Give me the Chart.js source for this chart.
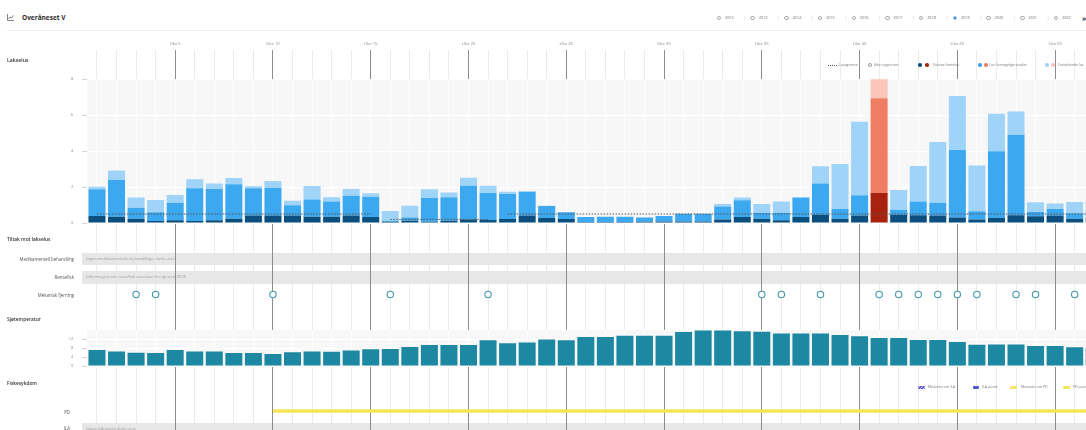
<!DOCTYPE html>
<html lang="no">
<head>
<meta charset="utf-8">
<script src="https://cdn.jsdelivr.net/npm/chart.js@4.4.1/dist/chart.umd.min.js"></script>
<style>
html, body { margin: 0; padding: 0; background: #fff; overflow: hidden; width: 1086px; height: 430px; }
#page { position: relative; width: 1104px; height: 430px; font-family: 'Open Sans', sans-serif; color: #333; overflow: hidden; }
canvas { position: absolute; left: 0; }
.lbl { position: absolute; white-space: nowrap; line-height: 1; }
.box { position: absolute; }
.row { position: absolute; left: 82px; width: 1022px; background: #e7e7e7; z-index: 2; color: #9a9a9a; font-size: 4.1px; line-height: 12.5px; padding-left: 4px; box-sizing: border-box; white-space: nowrap; }
</style>
</head>
<body>
<div id="page">
  <svg class="box" style="left:7px;top:14px;z-index:6" width="7" height="7" viewBox="0 0 7 7">
    <path d="M0.5 0 V6.5 H7" fill="none" stroke="#666" stroke-width="0.8"/>
    <path d="M1.5 5 L3 3 L4.3 4.2 L6.5 1.2" fill="none" stroke="#666" stroke-width="0.8"/>
  </svg>
  <div class="box" style="left:7px;top:30px;width:1097px;height:1px;background:#eeeeee"></div>
  <div class="row" style="top:252.5px;height:12.5px">Ingen medikamentelle behandlinger dette året</div>
  <div class="row" style="top:271.3px;height:12.5px">Informasjon om rensefisk vises kun fra og med 2018</div>
  <div class="row" style="top:422.7px;height:12.5px">Ingen ILA påvist dette året</div>
</div>
<script>
// === data ===
const weeks = Array.from({ length: 52 }, (_, i) => i + 1);

// lakselus per uke (gjennomsnitt per fisk)
const adultFemale = [0.39, 0.35, 0.24, 0.11, 0.15, 0.11, 0.15, 0.24, 0.41, 0.41,
    0.41, 0.35, 0.35, 0.41, 0.33, 0.07, 0.13, 0.07, 0.13, 0.19,
    0.17, 0.22, 0.41, 0.28, 0.22, 0.06, 0.06, 0.06, 0.07, 0.09,
    0.09, 0.09, 0.19, 0.33, 0.24, 0.15, 0.33, 0.46, 0.24, 0.41,
    1.67, 0.46, 0.43, 0.41, 0.30, 0.19, 0.28, 0.43, 0.37, 0.41,
    0.24, 0.30];
const mobileLice = [1.48, 2.04, 0.61, 0.49, 0.98, 1.82, 1.74, 1.91, 1.52, 1.55,
    0.57, 0.95, 0.84, 1.11, 1.13, 0.06, 0.17, 1.32, 1.30, 1.88,
    1.50, 1.39, 1.32, 0.66, 0.38, 0.27, 0.29, 0.29, 0.23, 0.30,
    0.43, 0.43, 0.72, 0.93, 0.33, 0.42, 1.07, 1.74, 0.54, 1.13,
    5.26, 0.28, 0.77, 0.70, 3.76, 0.46, 3.70, 4.46, 0.24, 0.37,
    0.30, 0.40];
const attachedLice = [0.15, 0.52, 0.56, 0.68, 0.43, 0.50, 0.31, 0.35, 0.11, 0.37,
    0.26, 0.76, 0.24, 0.37, 0.19, 0.54, 0.66, 0.48, 0.26, 0.45,
    0.40, 0.13, 0.03, 0.02, 0.01, 0, 0, 0, 0, 0,
    0, 0, 0.15, 0.15, 0.49, 0.62, 0.04, 0.95, 2.50, 4.09,
    1.05, 1.09, 1.97, 3.39, 3.00, 2.55, 2.09, 1.30, 0.54, 0.31,
    0.63, 0.50];
const liceLimit = [0.5, 0.5, 0.5, 0.5, 0.5, 0.5, 0.5, 0.5, 0.5, 0.5,
    0.5, 0.5, 0.5, 0.5, 0.5, 0.2, 0.2, 0.2, 0.2, 0.2,
    0.2, 0.5, 0.5, 0.5, 0.5, 0.5, 0.5, 0.5, 0.5, 0.5,
    0.5, 0.5, 0.5, 0.5, 0.5, 0.5, 0.5, 0.5, 0.5, 0.5,
    0.5, 0.5, 0.5, 0.5, 0.5, 0.5, 0.5, 0.5, 0.5, 0.5,
    0.5, 0.5];
const liceTicks = [0, 2, 4, 6, 8];

// sjøtemperatur (°C)
const seaTemp = [7.1, 6.4, 5.9, 5.8, 7.1, 6.4, 6.4, 5.8, 5.8, 5.3,
    6.1, 6.5, 6.3, 6.9, 7.4, 7.6, 8.4, 9.3, 9.3, 9.3,
    11.4, 10.1, 10.4, 11.8, 11.4, 12.9, 12.9, 13.5, 13.5, 13.5,
    15.1, 15.8, 15.8, 15.5, 15.2, 14.5, 14.5, 14.5, 13.8, 13.2,
    12.4, 12.4, 11.6, 11.6, 10.7, 9.5, 9.6, 9.6, 8.9, 8.9,
    8.3, 8.0];
const tempTicks = [0, 4, 8, 12];

// tiltak / sykdom
const mechanicalWeeks = [3, 4, 10, 16, 21, 35, 36, 38, 41, 42, 43, 44, 45, 46, 48, 49, 51];
const pdFromWeek = 10;

const years = [2012, 2013, 2014, 2015, 2016, 2017, 2018, 2019, 2020, 2021, 2022];
const selectedYear = 2019;

// === oppsett ===
const W = 1104;
const LEFT = 87.2;
const page = document.getElementById('page');

Chart.defaults.font.family = "'Open Sans', sans-serif";
Chart.defaults.animation = false;
Chart.defaults.plugins.legend.display = false;
Chart.defaults.plugins.tooltip.enabled = false;

function txt(s, x, y, size, o = {}) {
    const d = document.createElement('div');
    d.className = 'lbl';
    d.textContent = s;
    const tx = o.align === 'right' ? '-100%' : o.align === 'center' ? '-50%' : '0';
    d.style.cssText = `left:${x}px;top:${y}px;font-size:${size}px;transform:translate(${tx},-50%);` +
        `color:${o.color || '#333'};font-weight:${o.weight || 400};z-index:6`;
    page.appendChild(d);
    return d;
}

function shape(x, y, w, h, css) {
    const d = document.createElement('div');
    d.className = 'box';
    d.style.cssText = `left:${x}px;top:${y - h / 2}px;width:${w}px;height:${h}px;z-index:6;box-sizing:border-box;${css}`;
    page.appendChild(d);
}

function mkCanvas(top, h, z) {
    const c = document.createElement('canvas');
    c.width = W;
    c.height = h;
    c.style.cssText = `top:${top}px;width:${W}px;height:${h}px;z-index:${z}`;
    page.appendChild(c);
    return c.getContext('2d');
}

const isMajor = i => weeks[i] % 5 === 0;

// === rutenett (tynne + tykke linjer) ===
function gridChart(ctx, thick) {
    return new Chart(ctx, {
        type: 'bar',
        data: { labels: weeks, datasets: [] },
        options: {
            responsive: false,
            layout: { autoPadding: false, padding: { left: LEFT, right: 0, top: 0, bottom: 0 } },
            scales: {
                x: {
                    position: 'top',
                    offset: true,
                    grid: {
                        offset: false,
                        drawTicks: false,
                        lineWidth: 1,
                        color: c => thick
                            ? (isMajor(c.index) ? '#8d8d8d' : 'rgba(0,0,0,0)')
                            : (isMajor(c.index) ? 'rgba(0,0,0,0)' : '#ebebeb'),
                    },
                    border: { display: false },
                    ticks: {
                        display: thick,
                        autoSkip: false,
                        maxRotation: 0,
                        padding: 4,
                        color: '#888',
                        font: { size: 4.2 },
                        callback: (v, i) => isMajor(i) ? 'Uke ' + weeks[i] : '',
                    },
                    afterFit: s => { s.height = 15; s.paddingLeft = 0; s.paddingRight = 0; },
                },
                y: { display: false },
            },
        },
    });
}

gridChart(mkCanvas(35, 395, 1), false);
gridChart(mkCanvas(35, 395, 3), true);

const plotBg = {
    id: 'plotBg',
    beforeDraw(chart) {
        const { ctx, chartArea: a } = chart;
        ctx.save();
        ctx.fillStyle = '#f7f7f7';
        ctx.fillRect(a.left, a.top, a.right - a.left, a.bottom - a.top);
        ctx.restore();
    },
};

function innerX() {
    return {
        stacked: true,
        offset: true,
        grid: { offset: false, drawTicks: false, color: '#ffffff', lineWidth: 1 },
        border: { display: false },
        ticks: { display: false, autoSkip: false },
        afterFit: s => { s.height = 0; s.paddingLeft = 0; s.paddingRight = 0; },
    };
}

function innerY(max, tickVals) {
    return {
        stacked: true,
        min: 0,
        max: max,
        afterBuildTicks: s => { s.ticks = tickVals.map(v => ({ value: v })); },
        ticks: { color: '#8a8a8a', font: { size: 4 }, padding: 9 },
        grid: { color: '#ffffff', tickColor: '#d0d0d0', tickLength: 5, drawTicks: true },
        border: { display: false },
        afterFit: s => { s.width = LEFT; s.paddingTop = 0; s.paddingBottom = 0; },
    };
}

// === lakselus ===
const overLimit = adultFemale.map((v, i) => v > liceLimit[i]);
new Chart(mkCanvas(72, 156, 4), {
    type: 'bar',
    data: {
        labels: weeks,
        datasets: [
            {
                type: 'line',
                label: 'Lusegrense',
                data: liceLimit,
                stack: 'limit',
                order: 0,
                borderColor: '#555',
                borderWidth: 1,
                borderDash: [1.5, 1.5],
                pointRadius: 0,
                pointHoverRadius: 0,
                segment: {
                    borderColor: s => s.p0.parsed.y !== s.p1.parsed.y ? 'rgba(0,0,0,0)' : '#555',
                },
            },
            {
                label: 'Voksne hunnlus',
                data: adultFemale,
                stack: 'lus',
                order: 1,
                backgroundColor: c => overLimit[c.dataIndex] ? '#a8230f' : '#0b4f7e',
            },
            {
                label: 'Lus i bevegelige stadier',
                data: mobileLice,
                stack: 'lus',
                order: 1,
                backgroundColor: c => overLimit[c.dataIndex] ? '#ef7d64' : '#3ba8ef',
            },
            {
                label: 'Fastsittende lus',
                data: attachedLice,
                stack: 'lus',
                order: 1,
                backgroundColor: c => overLimit[c.dataIndex] ? '#f9c6b9' : '#9fd4f8',
            },
        ],
    },
    options: {
        responsive: false,
        layout: { autoPadding: false, padding: { left: 0, right: 0, top: 7, bottom: 5 } },
        datasets: { bar: { barPercentage: 0.87, categoryPercentage: 1 } },
        scales: { x: innerX(), y: innerY(8, liceTicks) },
    },
    plugins: [plotBg],
});

// === mekanisk fjerning ===
new Chart(mkCanvas(284, 21, 4), {
    type: 'line',
    data: {
        labels: weeks,
        datasets: [{
            label: 'Mekanisk fjerning',
            data: weeks.map(w => mechanicalWeeks.includes(w) ? 1 : null),
            showLine: false,
            pointRadius: 3.2,
            pointBorderWidth: 1.1,
            pointBorderColor: '#3f9ba8',
            pointBackgroundColor: '#ffffff',
        }],
    },
    options: {
        responsive: false,
        clip: false,
        layout: { autoPadding: false, padding: { left: LEFT, right: 0, top: 0, bottom: 0 } },
        scales: {
            x: { type: 'category', offset: true, display: false },
            y: { display: false, min: 0, max: 2 },
        },
    },
});

// === sjøtemperatur ===
new Chart(mkCanvas(324, 46, 4), {
    type: 'bar',
    data: {
        labels: weeks,
        datasets: [{
            label: 'Sjøtemperatur',
            data: seaTemp,
            backgroundColor: '#1c88a2',
        }],
    },
    options: {
        responsive: false,
        layout: { autoPadding: false, padding: { left: 0, right: 0, top: 6, bottom: 4 } },
        datasets: { bar: { barPercentage: 0.87, categoryPercentage: 1 } },
        scales: { x: innerX(), y: innerY(16, tempTicks) },
    },
    plugins: [plotBg],
});

// === PD ===
new Chart(mkCanvas(401, 20, 4), {
    type: 'line',
    data: {
        labels: weeks,
        datasets: [{
            label: 'PD påvist',
            data: weeks.map(w => w >= pdFromWeek ? 1 : null),
            borderColor: '#f4e458',
            borderWidth: 3.5,
            borderCapStyle: 'butt',
            pointRadius: 0,
        }],
    },
    options: {
        responsive: false,
        clip: false,
        layout: { autoPadding: false, padding: { left: LEFT, right: 0, top: 0, bottom: 0 } },
        scales: {
            x: { type: 'category', offset: true, display: false },
            y: { display: false, min: 0, max: 2 },
        },
    },
});

// === tekster ===
txt('Overåneset V', 22, 18.3, 6.5, { weight: 700, color: '#2b2b2b' });

years.forEach((y, i) => {
    const x = 719 + i * 33.7;
    if (i > 0) txt('|', x - 8, 17.8, 5, { color: '#c8c8c8', align: 'center' });
    if (y === selectedYear) {
        shape(x - 2.3, 17.8, 4.6, 4.6, 'border-radius:50%;background:#2a7de1;border:1px solid #9cc3f0');
    } else {
        shape(x - 2.3, 17.8, 4.6, 4.6, 'border-radius:50%;border:0.8px solid #aaa;background:#fff');
    }
    txt(String(y), x + 6, 17.8, 3.8, { color: '#666' });
});
txt('»', 1082, 17.5, 7, { weight: 700, color: '#333' });

txt('Lakselus', 7, 60.5, 5.2, { weight: 600, color: '#333' });

// tegnforklaring lakselus
shape(828, 65, 9, 1, 'border-top:1px dotted #555');
txt('Lusegrense', 839, 65, 3.5, { color: '#777' });
shape(868, 65, 4, 4, 'border-radius:50%;border:0.7px solid #999;background:#fff');
txt('Ikke rapportert', 874, 65, 3.5, { color: '#777' });
shape(918, 65, 3.6, 3.6, 'border-radius:50%;background:#0b4f7e');
shape(925, 65, 3.6, 3.6, 'border-radius:50%;background:#a8230f');
txt('Voksne hunnlus', 933, 65, 3.5, { color: '#777' });
shape(978, 65, 3.6, 3.6, 'border-radius:50%;background:#3ba8ef');
shape(984, 65, 3.6, 3.6, 'border-radius:50%;background:#ef7d64');
txt('Lus i bevegelige stadier', 989, 65, 3.5, { color: '#777' });
shape(1045, 65, 3.6, 3.6, 'border-radius:50%;background:#9fd4f8');
shape(1051, 65, 3.6, 3.6, 'border-radius:50%;background:#f9c6b9');
txt('Fastsittende lus', 1058, 65, 3.5, { color: '#777' });

txt('Tiltak mot lakselus', 7, 239, 4.8, { weight: 600, color: '#333' });
txt('Medikamentell behandling', 74, 259, 4.4, { align: 'right', color: '#555' });
txt('Rensefisk', 74, 277.3, 4.4, { align: 'right', color: '#555' });
txt('Mekanisk fjerning', 74, 294.5, 4.4, { align: 'right', color: '#555' });

txt('Sjøtemperatur', 7, 319.3, 4.8, { weight: 600, color: '#333' });
txt('Fiskesykdom', 7, 382.5, 4.8, { weight: 600, color: '#333' });

// tegnforklaring sykdom
shape(918, 387, 7, 3, 'border-radius:1px;background:repeating-linear-gradient(135deg,#5a55d6 0 1px,#c9c7f3 1px 2px)');
txt('Mistanke om ILA', 928, 387, 3.5, { color: '#777' });
shape(973, 387, 6, 3, 'border-radius:1px;background:#5a55d6');
txt('ILA påvist', 982, 387, 3.5, { color: '#777' });
shape(1010, 387, 7, 3, 'border-radius:1px;background:repeating-linear-gradient(135deg,#f0e046 0 1px,#fbf5c4 1px 2px)');
txt('Mistanke om PD', 1021, 387, 3.5, { color: '#777' });
shape(1063, 387, 7, 3, 'border-radius:1px;background:#f4e458');
txt('PD påvist', 1073, 387, 3.5, { color: '#777' });

txt('PD', 70, 411.7, 4.4, { align: 'right', color: '#555' });
txt('ILA', 70, 427.7, 4.4, { align: 'right', color: '#555' });
</script>
</body>
</html>
